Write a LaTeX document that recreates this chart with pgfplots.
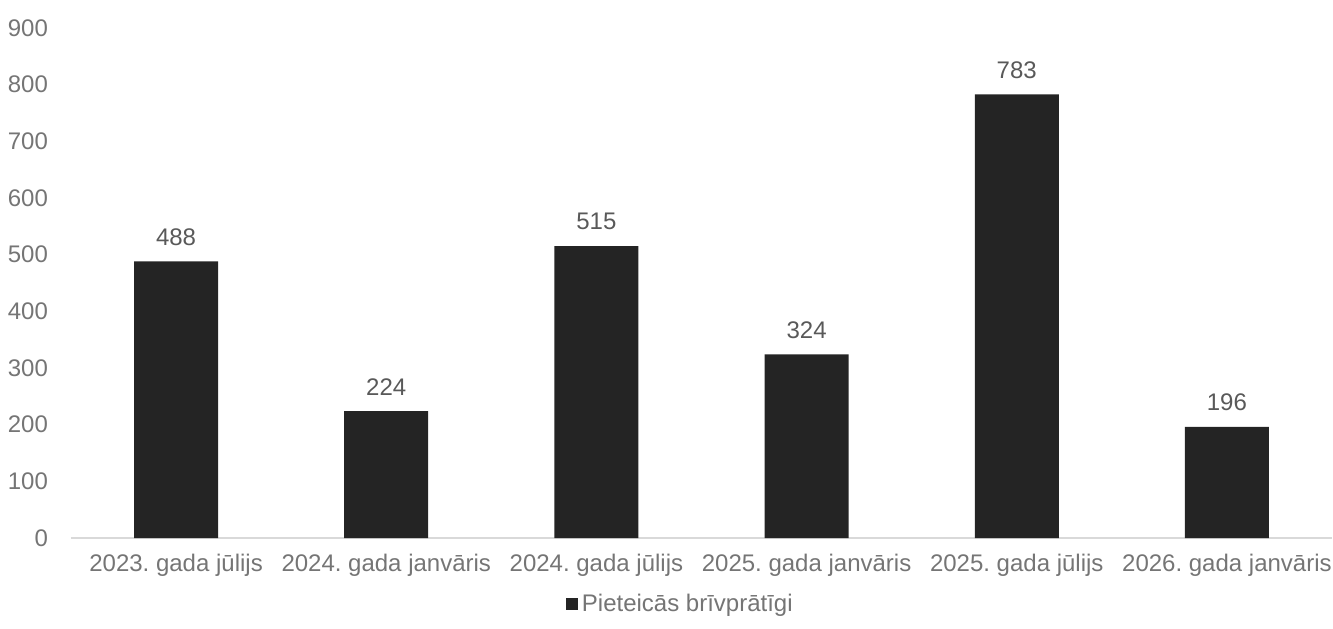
\documentclass[border=0pt]{standalone}
\usepackage{pgfplots}
\pgfplotsset{compat=1.18}
\usepackage{fontspec}
\setmainfont{Liberation Sans}
\frenchspacing
\definecolor{barc}{HTML}{242424}
\definecolor{tickc}{HTML}{757575}
\definecolor{labc}{HTML}{595959}
\definecolor{axc}{HTML}{D9D9D9}
\begin{document}
\begin{tikzpicture}
\begin{axis}[
  scale only axis,
  width=630.5pt, height=255pt,
  xmin=-0.5, xmax=5.5,
  ymin=0, ymax=900,
  ytick={0,100,...,900},
  xtick={0,1,2,3,4,5},
  xticklabels={2023. gada jūlijs,2024. gada janvāris,2024. gada jūlijs,2025. gada janvāris,2025. gada jūlijs,2026. gada janvāris},
  axis x line*=bottom,
  axis y line*=left,
  y axis line style={draw=none},
  x axis line style={axc, line width=1pt, -},
  major tick length=0pt,
  tick label style={font=\fontsize{12pt}{14pt}\selectfont\frenchspacing, text=tickc},
  /pgf/number format/assume math mode=true,
  yticklabel style={xshift=-8pt},
  xticklabel style={yshift=-4.5pt},
  ybar, bar width=42pt,
  nodes near coords,
  every node near coord/.append style={font=\fontsize{12pt}{14pt}\selectfont, text=labc, yshift=4.5pt},
  legend style={draw=none, at={(0.484,-0.13)}, anchor=center, font=\fontsize{12pt}{14pt}\selectfont, text=tickc, legend cell align=left},
  legend image code/.code={\fill[barc] (0pt,-3pt) rectangle (6pt,3pt);},
  clip=false,
]
\addplot[fill=barc, draw=none] coordinates {(0,488) (1,224) (2,515) (3,324) (4,783) (5,196)};
\addlegendentry{Pieteicās brīvprātīgi}
\end{axis}
\pgfresetboundingbox
\path ([shift={(-35.5pt,-45pt)}]current axis.south west) rectangle ([shift={(631pt,269pt)}]current axis.south west);
\end{tikzpicture}
\end{document}
